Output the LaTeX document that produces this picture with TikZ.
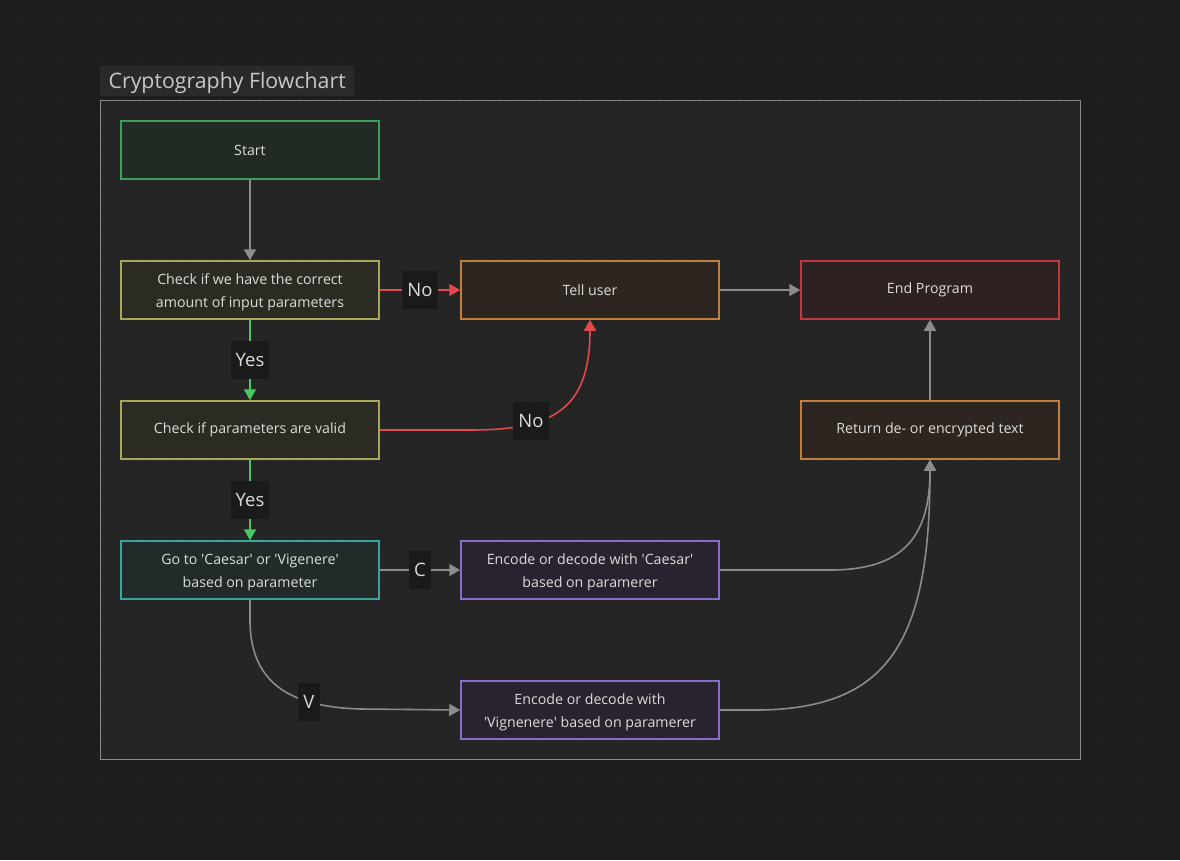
\documentclass[tikz,border=0pt]{standalone}
\usepackage{fontspec}
\setmainfont{Open Sans}
\usetikzlibrary{arrows.meta}
\definecolor{bgout}{HTML}{1E1E1E}
\definecolor{bgin}{HTML}{252525}
\definecolor{dotc}{HTML}{333333}
\definecolor{framec}{HTML}{8A8A8A}
\definecolor{titlebg}{HTML}{2A2A2A}
\definecolor{titlefg}{HTML}{C8C8C8}
\definecolor{txt}{HTML}{DCDCDC}
\definecolor{lblbg}{HTML}{1A1A1A}
\definecolor{edgegray}{HTML}{8C8C8C}
\definecolor{edgered}{HTML}{E5484D}
\definecolor{edgegreen}{HTML}{46C864}
\definecolor{cgreen}{HTML}{3E9E5C}\definecolor{fgreen}{HTML}{212A23}
\definecolor{colive}{HTML}{A9A55C}\definecolor{folive}{HTML}{2C2B23}
\definecolor{corange}{HTML}{C07F3E}\definecolor{forange}{HTML}{2D2620}
\definecolor{cred}{HTML}{C0393F}\definecolor{fred}{HTML}{2D2122}
\definecolor{cteal}{HTML}{3AA59D}\definecolor{fteal}{HTML}{222A2A}
\definecolor{cpurple}{HTML}{8A6CCC}\definecolor{fpurple}{HTML}{28232E}
\newcommand{\sq}{\textquotesingle}
\newcommand{\lowerstrut}{\rule{0pt}{14.8pt}}
\begin{document}
\begin{tikzpicture}[x=1pt,y=-1pt,
  box/.style={draw, line width=1.5pt, minimum width=258pt, minimum height=58pt,
    align=center, text=txt, font=\fontsize{14.2}{23}\selectfont, inner sep=0pt},
  lbl/.style={fill=lblbg, text=txt, font=\fontsize{18.5}{20}\selectfont,
    minimum height=38pt, inner xsep=5pt, inner ysep=0pt},
  conn/.style={line width=1.6pt, -{Triangle[length=11pt,width=12pt]}},
  gconn/.style={conn, draw=edgegray},
  rconn/.style={conn, draw=edgered},
  yconn/.style={conn, draw=edgegreen}]
\fill[bgout] (0,0) rectangle (1180,860);
\useasboundingbox (0,0) rectangle (1180,860);
\fill[bgin] (100,100) rectangle (1080,759);
\foreach \i in {1,...,58}{\foreach \j in {1,...,42}{\fill[dotc] (20*\i,20*\j) circle (0.8pt);}}
\draw[framec, line width=1pt] (100,100) rectangle (1080,759);
\node[fill=titlebg, text=titlefg, anchor=north west, minimum width=254pt, minimum height=30pt,
  inner xsep=8pt, inner ysep=0pt, text height=15pt, text depth=0pt,
  font=\fontsize{21.3}{24}\selectfont] (title) at (100,66) {Cryptography Flowchart};

\node[box, draw=cgreen, fill=fgreen] (start) at (250,150) {Start};
\node[box, draw=colive, fill=folive] (chk1) at (250,290) {\lowerstrut Check if we have the correct\\amount of input parameters};
\node[box, draw=corange, fill=forange] (tell) at (590,290) {Tell user};
\node[box, draw=cred, fill=fred] (end) at (930,290) {End Program};
\node[box, draw=colive, fill=folive] (chk2) at (250,430) {Check if parameters are valid};
\node[box, draw=corange, fill=forange] (ret) at (930,430) {Return de- or encrypted text};
\node[box, draw=cteal, fill=fteal] (goto) at (250,570) {\lowerstrut Go to \sq Caesar\sq{} or \sq Vigenere\sq\\based on parameter};
\node[box, draw=cpurple, fill=fpurple] (caes) at (590,570) {\lowerstrut Encode or decode with \sq Caesar\sq\\based on paramerer};
\node[box, draw=cpurple, fill=fpurple] (vig) at (590,710) {\lowerstrut Encode or decode with\\\sq Vignenere\sq{} based on paramerer};

\coordinate (r1) at (470,430);
\coordinate (v1) at (250,620);
\coordinate (v2) at (360,709);
\coordinate (c1) at (830,570);
\coordinate (w1) at (760,710);

\draw[gconn] (start) -- (chk1);
\draw[rconn] (chk1) -- (tell);
\draw[yconn] (chk1) -- (chk2);
\draw[rconn] (chk2.east) -- (r1) .. controls (550,430) and (590,412) .. (tell.south);
\draw[gconn] (tell) -- (end);
\draw[gconn] (ret) -- (end);
\draw[yconn] (chk2) -- (goto);
\draw[gconn] (goto) -- (caes);
\draw[gconn] (goto.south) -- (v1) .. controls (250,690) and (300,707) .. (v2) -- (vig.west);
\draw[gconn] (caes.east) -- (c1) .. controls (900,570) and (930,540) .. (ret.south);
\draw[gconn] (vig.east) -- (w1) .. controls (890,708) and (930,640) .. (ret.south);

\node[lbl] (lno1) at (420,290) {No};
\node[lbl] (lyes1) at (250,360) {Yes};
\node[lbl] (lno2) at (531,421) {No};
\node[lbl] (lyes2) at (250,500) {Yes};
\node[lbl] (lc) at (420,570) {C};
\node[lbl] (lv) at (309,702) {V};
\end{tikzpicture}
\end{document}
